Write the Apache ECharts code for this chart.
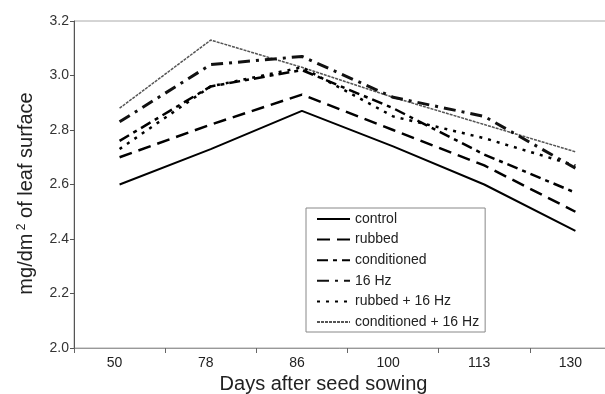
<!DOCTYPE html>
<html>
<head>
<meta charset="utf-8">
<script src="https://cdn.jsdelivr.net/npm/echarts@6/dist/echarts.min.js"></script>
<style>html,body{margin:0;padding:0;background:#fff;}#c{width:605px;height:394px;}</style>
</head>
<body>
<div id="c"></div>
<script>
const categories = ['50', '78', '86', '100', '113', '130'];
const control = [2.60, 2.73, 2.87, 2.74, 2.60, 2.43];
const rubbed = [2.70, 2.82, 2.93, 2.80, 2.67, 2.50];
const conditioned = [2.76, 2.96, 3.02, 2.88, 2.71, 2.57];
const hz16 = [2.83, 3.04, 3.07, 2.92, 2.85, 2.66];
const rubbedHz16 = [2.73, 2.96, 3.03, 2.85, 2.77, 2.67];
const conditionedHz16 = [2.88, 3.13, 3.03, 2.92, 2.82, 2.72];
const seriesNames = ['control', 'rubbed', 'conditioned', '16 Hz', 'rubbed + 16 Hz', 'conditioned + 16 Hz'];
const yTicks = {min: 2.0, max: 3.2, interval: 0.2};

const styles = [
  {type: 'solid', width: 2, color: '#000'},
  {type: [13, 7], width: 2.5, color: '#000'},
  {type: [11, 5, 4, 5], width: 2.5, color: '#000'},
  {type: [12, 6, 3, 6], width: 3, color: '#111'},
  {type: [3, 6], width: 2.5, color: '#000'},
  {type: [3, 1], width: 1.5, color: '#555'}
];
const dataSets = [control, rubbed, conditioned, hz16, rubbedHz16, conditionedHz16];

const chart = echarts.init(document.getElementById('c'), null, {renderer: 'canvas'});
const font = 'Liberation Sans, Arial, sans-serif';
chart.setOption({
  animation: false,
  backgroundColor: '#fff',
  textStyle: {fontFamily: font},
  grid: {left: 74, top: 21, right: -16, bottom: 46, show: true, borderColor: '#aaa', borderWidth: 1, containLabel: false, outerBoundsMode: 'none'},
  legend: {
    orient: 'vertical',
    left: 306, top: 208,
    padding: [4, 6, 3, 10],
    itemWidth: 33, itemHeight: 14, itemGap: 6.6,
    borderColor: '#888', borderWidth: 1,
    backgroundColor: '#fff',
    itemStyle: {opacity: 0},
    textStyle: {fontSize: 14, color: '#222', fontFamily: font},
    data: seriesNames
  },
  xAxis: {
    type: 'category',
    data: categories,
    boundaryGap: true,
    axisLine: {lineStyle: {color: '#999', width: 1}},
    axisTick: {show: true, inside: false, length: 5, lineStyle: {color: '#666'}},
    axisLabel: {fontSize: 14, color: '#222', margin: 8, padding: [0, 10, 0, 0]},
    name: 'Days after seed sowing',
    nameLocation: 'middle',
    nameGap: 25,
    nameTextStyle: {fontSize: 20, color: '#222', padding: [0, 48, 0, 0]}
  },
  yAxis: {
    type: 'value',
    min: yTicks.min, max: yTicks.max, interval: yTicks.interval,
    axisLine: {show: true, lineStyle: {color: '#555', width: 1}},
    axisTick: {show: true, length: 4, lineStyle: {color: '#555'}},
    splitLine: {show: false},
    axisLabel: {fontSize: 14, color: '#333', margin: 5, formatter: v => v.toFixed(1)},
    name: 'mg/dm{sup| 2} of leaf surface',
    nameLocation: 'middle',
    nameRotate: 90,
    nameGap: 37,
    nameTextStyle: {fontSize: 20, color: '#222', padding: [0, 18, 0, 0], rich: {sup: {fontSize: 12, verticalAlign: 'top', padding: [0, 0, 9, 0], color: '#222'}}}
  },
  series: dataSets.map((d, i) => ({
    name: seriesNames[i],
    type: 'line',
    data: d,
    symbol: 'none',
    lineStyle: styles[i],
    itemStyle: {color: styles[i].color},
    z: 10 - i
  }))
});
</script>
</body>
</html>
